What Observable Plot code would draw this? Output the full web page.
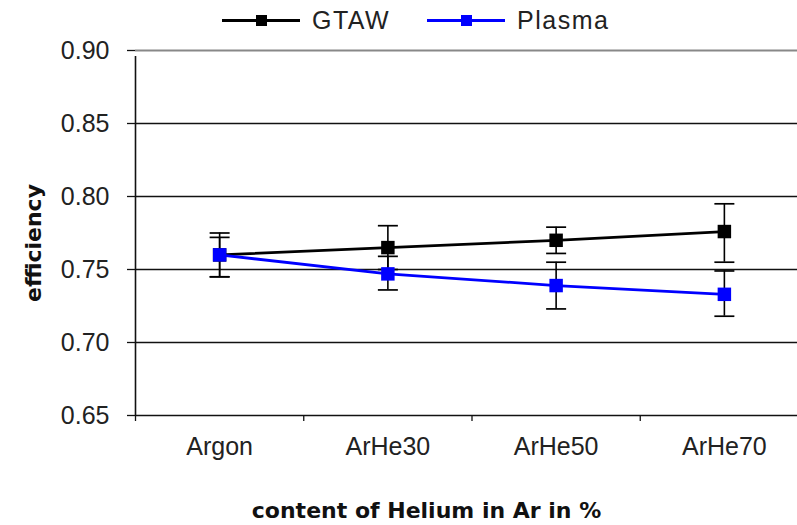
<!DOCTYPE html>
<html>
<head>
<meta charset="utf-8">
<script src="https://cdn.jsdelivr.net/npm/d3@7"></script>
<script src="https://cdn.jsdelivr.net/npm/@observablehq/plot@0.6"></script>
<style>
  body { margin: 0; background: white; width: 797px; height: 525px; overflow: hidden; }
  #legend { position: relative; height: 40px; width: 797px; font-family: "Liberation Sans", Arial, sans-serif; font-size: 25px; letter-spacing: 1.5px; color: #222; }
  .item { position: absolute; top: 0; height: 40px; display: flex; align-items: center; }
  .sw { position: relative; width: 78px; height: 3px; margin-right: 12px; }
  .sw .mk { position: absolute; left: 34px; top: -4px; width: 11px; height: 11px; }
</style>
</head>
<body>
<div id="legend"></div>
<div id="chart"></div>
<script>
const categories = ["Argon", "ArHe30", "ArHe50", "ArHe70"];
const seriesNames = ["GTAW", "Plasma"];
const seriesColors = ["#000000", "#0000ff"];
const gtawValues = [0.760, 0.765, 0.770, 0.776];
const gtawLow    = [0.745, 0.750, 0.761, 0.755];
const gtawHigh   = [0.775, 0.780, 0.779, 0.795];
const plasmaValues = [0.760, 0.747, 0.739, 0.733];
const plasmaLow    = [0.745, 0.736, 0.723, 0.718];
const plasmaHigh   = [0.772, 0.759, 0.755, 0.749];
const yTicks = [0.65, 0.70, 0.75, 0.80, 0.85, 0.90];
const gridValues = [0.70, 0.75, 0.80, 0.85];
const xLabel = "content of Helium in Ar in %";
const yLabel = "efficiency";

// legend (HTML above the SVG)
const legend = document.getElementById("legend");
const legendLefts = [222, 427];
seriesNames.forEach((name, k) => {
  const item = document.createElement("div");
  item.className = "item";
  item.style.left = legendLefts[k] + "px";
  item.innerHTML = `<div class="sw" style="background:${seriesColors[k]}"><div class="mk" style="background:${seriesColors[k]}"></div></div><span>${name}</span>`;
  legend.appendChild(item);
});

const rows = (vals, lo, hi) => categories.map((c, i) => ({i, cat: c, v: vals[i], lo: lo[i], hi: hi[i]}));
const gtaw = rows(gtawValues, gtawLow, gtawHigh);
const plasma = rows(plasmaValues, plasmaLow, plasmaHigh);

const cap = { draw(ctx) { ctx.moveTo(-10, 0); ctx.lineTo(10, 0); } };

function seriesMarks(data, color) {
  return [
    Plot.line(data, {x: "i", y: "v", stroke: color, strokeWidth: 2.8}),
    Plot.ruleX(data, {x: "i", y1: "lo", y2: "hi", stroke: "#000", strokeWidth: 1.6}),
    Plot.dot(data, {x: "i", y: "lo", symbol: cap, stroke: "#000", fill: "none", strokeWidth: 1.7}),
    Plot.dot(data, {x: "i", y: "hi", symbol: cap, stroke: "#000", fill: "none", strokeWidth: 1.7}),
    Plot.dot(data, {x: "i", y: "v", symbol: "square", r: 7.6, fill: color, stroke: "none"})
  ];
}

const chart = Plot.plot({
  width: 797,
  height: 485,
  marginTop: 10,
  marginBottom: 110,
  marginLeft: 135,
  marginRight: 0,
  x: {type: "linear", domain: [-0.5, categories.length - 0.5], range: [135, 808]},
  y: {domain: [0.65, 0.90]},
  style: {fontFamily: "'Liberation Sans', Arial, sans-serif", fontSize: "25px", color: "#222", background: "white", overflow: "visible"},
  marks: [
    Plot.ruleY(gridValues, {stroke: "#111", strokeWidth: 1.3}),
    Plot.ruleY([0.90], {stroke: "#888", strokeWidth: 2}),
    Plot.ruleY([0.65], {stroke: "#111", strokeWidth: 1.6}),
    Plot.ruleX([-0.5], {y1: 0.65, y2: 0.90, stroke: "#111", strokeWidth: 1.6, insetBottom: -6}),
    Plot.axisY({ticks: yTicks, tickFormat: d3.format(".2f"), tickSize: 8, tickPadding: 18, label: null, stroke: "#111", strokeWidth: 1.3, letterSpacing: "1px"}),
    Plot.axisX({ticks: d3.range(categories.length + 1).map(k => k - 0.5), tickSize: 6, tickFormat: () => "", label: null, stroke: "#111", strokeWidth: 1.3}),
    Plot.axisX({ticks: d3.range(categories.length), tickSize: 0, tickPadding: 22, tickFormat: k => categories[k], label: null, letterSpacing: "1.5px"}),
    ...seriesMarks(gtaw, seriesColors[0]),
    ...seriesMarks(plasma, seriesColors[1]),
    Plot.text([yLabel], {frameAnchor: "left", textAnchor: "middle", lineAnchor: "middle", rotate: -90, dx: -102, dy: 10, fontFamily: "'DejaVu Sans', sans-serif", fontWeight: "bold", fontSize: 22, letterSpacing: "1px", fill: "#111"}),
    Plot.text([xLabel], {frameAnchor: "bottom", textAnchor: "middle", lineAnchor: "middle", dy: 95, dx: -40, fontFamily: "'DejaVu Sans', sans-serif", fontWeight: "bold", fontSize: 22, letterSpacing: "1px", fill: "#111"})
  ]
});
document.getElementById("chart").appendChild(chart);
</script>
</body>
</html>
